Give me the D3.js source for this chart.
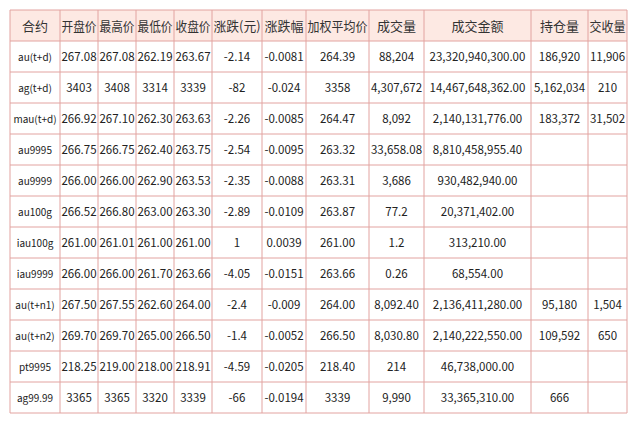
<!DOCTYPE html><html><head><meta charset="utf-8"><script src="https://cdn.jsdelivr.net/npm/d3@7"></script>
<style>body{margin:0;background:#fff}</style></head><body><svg id="c" width="641" height="427"></svg>
<script>
const headers=["合约","开盘价","最高价","最低价","收盘价","涨跌(元)","涨跌幅","加权平均价","成交量","成交金额","持仓量","交收量"];
const contracts=["au(t+d)","ag(t+d)","mau(t+d)","au9995","au9999","au100g","iau100g","iau9999","au(t+n1)","au(t+n2)","pt9995","ag99.99"];
const openP=["267.08","3403","266.92","266.75","266.00","266.52","261.00","266.00","267.50","269.70","218.25","3365"];
const highP=["267.08","3408","267.10","266.75","266.00","266.80","261.01","266.00","267.55","269.70","219.00","3365"];
const lowP=["262.19","3314","262.30","262.40","262.90","263.00","261.00","261.70","262.60","265.00","218.00","3320"];
const closeP=["263.67","3339","263.63","263.75","263.53","263.30","261.00","263.66","264.00","266.50","218.91","3339"];
const change=["-2.14","-82","-2.26","-2.54","-2.35","-2.89","1","-4.05","-2.4","-1.4","-4.59","-66"];
const changePct=["-0.0081","-0.024","-0.0085","-0.0095","-0.0088","-0.0109","0.0039","-0.0151","-0.009","-0.0052","-0.0205","-0.0194"];
const avgP=["264.39","3358","264.47","263.32","263.31","263.87","261.00","263.66","264.00","266.50","218.40","3339"];
const volume=["88,204","4,307,672","8,092","33,658.08","3,686","77.2","1.2","0.26","8,092.40","8,030.80","214","9,990"];
const amount=["23,320,940,300.00","14,467,648,362.00","2,140,131,776.00","8,810,458,955.40","930,482,940.00","20,371,402.00","313,210.00","68,554.00","2,136,411,280.00","2,140,222,550.00","46,738,000.00","33,365,310.00"];
const openInt=["186,920","5,162,034","183,372","","","","","","95,180","109,592","","666"];
const delivery=["11,906","210","31,502","","","","","","1,504","650","",""];
const cols=[contracts,openP,highP,lowP,closeP,change,changePct,avgP,volume,amount,openInt,delivery];
const xEdges=[10,60,98,136,174,212,262,306,369,424,531,588,627];
const svg=d3.select("#c");
const y=d3.scaleBand().domain(d3.range(13)).range([10,413]);
const border="#e2a3a0";
svg.append("rect").attr("x",xEdges[0]).attr("y",y(0)).attr("width",xEdges[12]-xEdges[0]).attr("height",y.bandwidth()).attr("fill","#fde9e3");
const g=svg.append("g").attr("font-family","'Noto Sans CJK SC', 'DejaVu Sans', sans-serif").attr("text-anchor","middle").attr("fill","#222");
headers.forEach((h,i)=>{g.append("text").attr("x",(xEdges[i]+xEdges[i+1])/2).attr("y",y(0)+y.bandwidth()/2+5).attr("font-size",13).attr("fill","#333").attr("textLength",h.length*13>xEdges[i+1]-xEdges[i]-2?xEdges[i+1]-xEdges[i]-3:null).attr("lengthAdjust","spacingAndGlyphs").text(h);});
cols.forEach((col,i)=>col.forEach((v,r)=>{if(!v)return;const w=xEdges[i+1]-xEdges[i];const fs=i==0?10:11.5;const t=g.append("text").attr("x",(xEdges[i]+xEdges[i+1])/2).attr("y",y(r+1)+y.bandwidth()/2+4).attr("font-size",fs).text(v);
 if(t.node().getComputedTextLength()>w-2)t.attr("textLength",w-2).attr("lengthAdjust","spacingAndGlyphs");}));
y.domain().concat([13]).forEach(r=>{const yy=r<13?y(r):413;svg.append("line").attr("x1",xEdges[0]).attr("x2",xEdges[12]).attr("y1",yy).attr("y2",yy).attr("stroke",border);});
xEdges.forEach(x=>svg.append("line").attr("x1",x).attr("x2",x).attr("y1",10).attr("y2",413).attr("stroke",border));
</script></body></html>
